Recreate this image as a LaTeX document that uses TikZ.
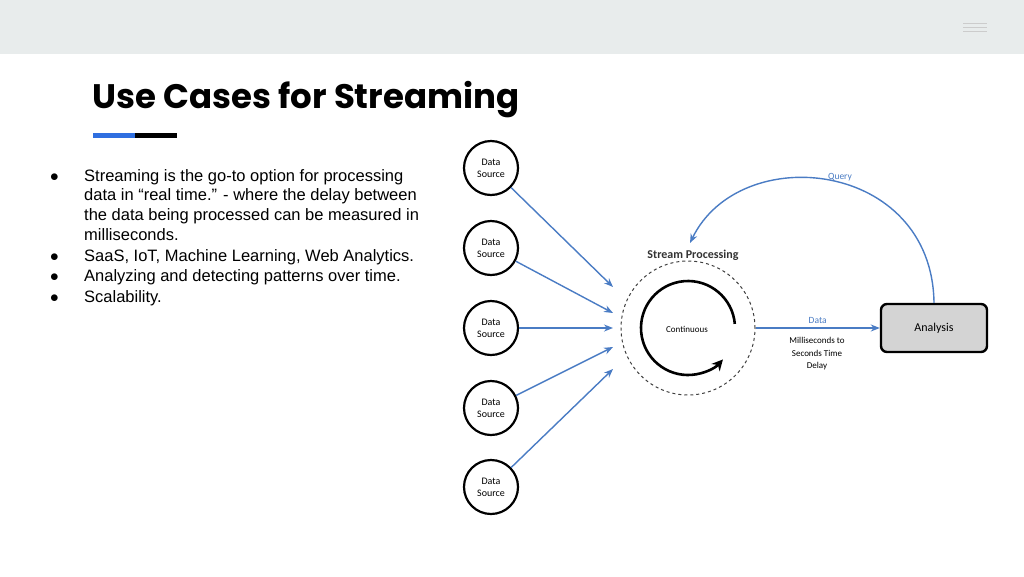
\documentclass[tikz,border=0pt]{standalone}
\usepackage{fontspec}
\setmainfont{Liberation Sans}
\newfontfamily\titlefont{Poppins}
\newfontfamily\diagfont{Carlito}
\usetikzlibrary{positioning}
\usetikzlibrary{calc}
\usetikzlibrary{arrows.meta}
\definecolor{barGray}{HTML}{E8ECEC}
\definecolor{flowBlue}{HTML}{4A7CC4}
\definecolor{accentBlue}{HTML}{2F6FE0}
\begin{document}
\begin{tikzpicture}[x=1pt, y=-1pt]
    % styles
    \tikzstyle{source} = [draw=black, line width=2.2pt, circle, minimum size=54pt, inner sep=0pt, align=center, font=\diagfont\fontsize{10}{12}\selectfont]
    \tikzstyle{flow} = [draw=flowBlue, line width=1.4pt, -{Stealth[length=9pt, width=7pt]}]
    \tikzstyle{bullet} = [anchor=base west, font=\fontsize{16.5}{19}\selectfont, inner sep=0pt]

    % background and top bar
    \useasboundingbox (0, 0) rectangle (1024, 576);
    \fill[white] (0, 0) rectangle (1024, 576);
    \fill[barGray] (0, 0) rectangle (1024, 54);
    \foreach \y in {23, 27, 31} {
        \draw[gray!40, line width=1pt] (963, \y) -- (987, \y);
    }

    % title and underline
    \node[anchor=base west, inner sep=0pt, font=\titlefont\bfseries\fontsize{34}{38}\selectfont] (title) at (92, 108) {Use Cases for Streaming};
    \fill[accentBlue] (93, 133) rectangle (135, 137.5);
    \fill[black] (135, 133) rectangle (177, 137.5);

    % bullet list
    \foreach \t/\y in {{Streaming is the go-to option for processing}/181, {SaaS, IoT, Machine Learning, Web Analytics.}/261, {Analyzing and detecting patterns over time.}/281, {Scalability.}/302} {
        \node[bullet] at (50, \y) {$\bullet$};
        \node[bullet] at (84, \y) {\t};
    }
    \node[bullet] (l2) at (84, 200) {data in “real time.” - where the delay between};
    \node[bullet] (l3) at (84, 220) {the data being processed can be measured in};
    \node[bullet] (l4) at (84, 240) {milliseconds.};

    % data sources
    \foreach \i/\y in {1/168, 2/248, 3/328, 4/408, 5/487} {
        \node[source] (S\i) at (491, \y) {Data\\Source};
    }

    % stream processing circle
    \node[draw=black!75, dashed, line width=1pt, circle, minimum size=134pt, inner sep=0pt] (SP) at (688, 328) {};
    \node[font=\diagfont\fontsize{9}{10}\selectfont] (cont) at (687, 329) {Continuous};
    \node[font=\diagfont\bfseries\fontsize{12}{14}\selectfont, text=black!80] (splabel) at (693, 255) {Stream Processing};
    \draw[line width=2.6pt, -{Stealth[length=11pt, width=11pt]}] ($(SP.center) + (-5:47)$) arc[start angle=-5, end angle=-318, radius=47];

    % inputs
    \coordinate (in1) at (613, 287);
    \coordinate (in2) at (613, 313);
    \coordinate (in3) at (613, 328);
    \coordinate (in4) at (613, 347);
    \coordinate (in5) at (613, 369);
    \foreach \i in {1, 2, ..., 5} {
        \draw[flow] (S\i) -- (in\i);
    }

    % analysis
    \node[draw=black, line width=2.4pt, fill=black!17, rounded corners=6pt, minimum width=106pt, minimum height=48pt, font=\diagfont\fontsize{12}{14}\selectfont] (AN) at (934, 328) {Analysis};
    \draw[flow] (SP.east) -- node[above, text=flowBlue, font=\diagfont\fontsize{9.5}{10}\selectfont] {Data} (AN.west);
    \node[align=center, font=\diagfont\fontsize{9}{12.5}\selectfont] (delay) at (817, 354) {Milliseconds to\\Seconds Time\\Delay};

    % query
    \draw[flow] (AN.north) .. controls (932, 160) and (740, 140) .. (690, 243);
    \node[text=flowBlue, font=\diagfont\fontsize{9.5}{10}\selectfont] (query) at (840, 177) {Query};
\end{tikzpicture}
\end{document}
